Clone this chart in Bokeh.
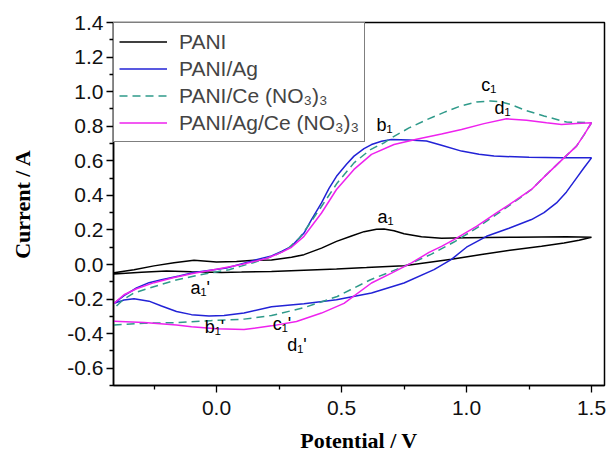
from bokeh.plotting import figure
from bokeh.models import FixedTicker, PrintfTickFormatter, Range1d, Legend, LegendItem, ColumnDataSource
from bokeh.core.properties import value
from bokeh.embed import file_html
from bokeh.resources import INLINE

# ---------------- data ----------------
pani_x = [-0.41, -0.33, -0.25, -0.17, -0.09, 0.0, 0.08, 0.15, 0.22, 0.30, 0.35, 0.42, 0.48, 0.54, 0.59, 0.64, 0.67, 0.71, 0.75, 0.82, 0.90, 1.00, 1.20, 1.40, 1.50,
          1.45, 1.39, 1.30, 1.19, 1.06, 0.94, 0.86, 0.75, 0.60, 0.48, 0.35, 0.22, 0.10, 0.02, -0.10, -0.20, -0.30, -0.41]
pani_y = [-0.048, -0.03, -0.008, 0.01, 0.024, 0.015, 0.018, 0.024, 0.026, 0.042, 0.057, 0.095, 0.134, 0.165, 0.19, 0.204, 0.206, 0.195, 0.178, 0.16, 0.152, 0.155, 0.158, 0.16, 0.158,
          0.14, 0.125, 0.106, 0.086, 0.058, 0.03, 0.015, -0.007, -0.018, -0.026, -0.033, -0.04, -0.044, -0.046, -0.042, -0.038, -0.045, -0.055]

ag_x = [-0.41, -0.37, -0.32, -0.27, -0.22, -0.15, -0.09, 0.04, 0.15, 0.22, 0.26, 0.30, 0.35, 0.38, 0.42, 0.45, 0.48, 0.52, 0.55, 0.59, 0.62, 0.66, 0.70, 0.77, 0.84, 0.90, 0.98, 1.05, 1.11, 1.25, 1.38, 1.50,
        1.47, 1.44, 1.40, 1.36, 1.31, 1.26, 1.17, 1.08, 1.00, 0.94, 0.87, 0.75, 0.62, 0.48, 0.35, 0.22, 0.11, 0.03, -0.03, -0.10, -0.16, -0.22, -0.27, -0.33, -0.37, -0.41]
ag_y = [-0.225, -0.18, -0.136, -0.105, -0.088, -0.066, -0.046, -0.02, 0.024, 0.05, 0.075, 0.105, 0.182, 0.26, 0.356, 0.44, 0.51, 0.58, 0.627, 0.67, 0.694, 0.713, 0.723, 0.72, 0.714, 0.69, 0.656, 0.638, 0.627, 0.62, 0.617, 0.617,
        0.56, 0.50, 0.42, 0.356, 0.30, 0.26, 0.21, 0.163, 0.10, 0.03, -0.03, -0.107, -0.165, -0.204, -0.227, -0.245, -0.28, -0.295, -0.298, -0.29, -0.272, -0.24, -0.212, -0.198, -0.205, -0.225]

ce_x = [-0.40, -0.37, -0.33, -0.29, -0.22, -0.157, -0.064, 0.05, 0.15, 0.22, 0.28, 0.33, 0.37, 0.416, 0.483, 0.55, 0.616, 0.67, 0.70, 0.77, 0.843, 0.91, 0.976, 1.04, 1.096, 1.14, 1.176, 1.24, 1.31, 1.40, 1.50,
        1.47, 1.44, 1.39, 1.32, 1.26, 1.19, 1.12, 1.04, 0.95, 0.86, 0.75, 0.616, 0.536, 0.483, 0.35, 0.22, 0.11, -0.024, -0.157, -0.29, -0.41]
ce_y = [-0.24, -0.2, -0.165, -0.146, -0.115, -0.088, -0.059, -0.03, 0.012, 0.045, 0.085, 0.15, 0.23, 0.327, 0.472, 0.588, 0.665, 0.704, 0.733, 0.79, 0.839, 0.88, 0.917, 0.94, 0.946, 0.94, 0.926, 0.89, 0.859, 0.824, 0.82,
        0.75, 0.685, 0.617, 0.52, 0.434, 0.36, 0.29, 0.21, 0.13, 0.06, -0.011, -0.088, -0.146, -0.185, -0.25, -0.295, -0.316, -0.325, -0.336, -0.34, -0.35]

agce_x = [-0.41, -0.37, -0.32, -0.25, -0.17, -0.09, 0.0, 0.10, 0.20, 0.26, 0.30, 0.35, 0.42, 0.48, 0.55, 0.62, 0.71, 0.80, 0.90, 0.98, 1.07, 1.16, 1.24, 1.32, 1.38, 1.44, 1.50,
          1.47, 1.44, 1.39, 1.32, 1.26, 1.19, 1.12, 1.04, 0.95, 0.90, 0.85, 0.78, 0.70, 0.62, 0.51, 0.42, 0.32, 0.22, 0.11, 0.0, -0.10, -0.16, -0.29, -0.41]
agce_y = [-0.225, -0.175, -0.14, -0.105, -0.075, -0.05, -0.028, 0.0, 0.035, 0.07, 0.10, 0.163, 0.298, 0.434, 0.55, 0.637, 0.694, 0.725, 0.755, 0.781, 0.815, 0.843, 0.835, 0.82, 0.81, 0.815, 0.82,
          0.75, 0.685, 0.617, 0.52, 0.434, 0.365, 0.298, 0.22, 0.144, 0.105, 0.07, 0.009, -0.05, -0.107, -0.225, -0.281, -0.33, -0.355, -0.376, -0.372, -0.36, -0.35, -0.336, -0.328]

series_names = ["PANI", "PANI/Ag", "PANI/Ce (NO\u2083)\u2083", "PANI/Ag/Ce (NO\u2083)\u2083"]

peak_labels = ["a\u2081", "b\u2081", "c\u2081", "d\u2081", "a\u2081'", "b\u2081'", "c\u2081'", "d\u2081'"]
peak_x = [0.644, 0.64, 1.059, 1.112, -0.104, -0.047, 0.225, 0.283]
peak_y = [0.277, 0.805, 1.036, 0.907, -0.136, -0.362, -0.345, -0.467]

x_ticks = [0.0, 0.5, 1.0, 1.5]
x_minor = [-0.25, 0.25, 0.75, 1.25]
y_ticks = [-0.6, -0.4, -0.2, 0.0, 0.2, 0.4, 0.6, 0.8, 1.0, 1.2, 1.4]
y_minor = [-0.7, -0.5, -0.3, -0.1, 0.1, 0.3, 0.5, 0.7, 0.9, 1.1, 1.3]

x_title = "Potential / V"
y_title = "Current / A"

# ---------------- figure ----------------
p = figure(width=608, height=455, output_backend="svg", toolbar_location=None,
           x_range=Range1d(-0.412, 1.552), y_range=Range1d(-0.7, 1.4),
           min_border_left=113, min_border_right=4, min_border_top=22, min_border_bottom=70)
p.xgrid.visible = False
p.ygrid.visible = False
p.outline_line_color = "black"
p.outline_line_width = 1.5
p.background_fill_color = "white"

colors = ["#000000", "#2222d6", "#2f9a8a", "#ee22ee"]
xs = [pani_x, ag_x, ce_x, agce_x]
ys = [pani_y, ag_y, ce_y, agce_y]
dashes = ["solid", "solid", "8 5", "solid"]
renderers = []
for xv, yv, c, d in zip(xs, ys, colors, dashes):
    r = p.line(xv, yv, line_color=c, line_width=1.5, line_dash=d)
    renderers.append(r)

src = ColumnDataSource(dict(x=peak_x, y=peak_y, t=peak_labels))
p.text(x="x", y="y", text="t", source=src, text_font=value("Liberation Sans"),
       text_font_size="18px", text_align="left", text_baseline="middle", text_color="black")

legend = Legend(items=[LegendItem(label=n, renderers=[r]) for n, r in zip(series_names, renderers)],
                location="top_left", margin=0, padding=5, spacing=0,
                label_text_font="Liberation Sans", label_text_font_size="21px",
                label_height=27, glyph_height=27, glyph_width=48, label_standoff=12,
                border_line_color="black", border_line_width=1.2,
                background_fill_color="white", background_fill_alpha=1.0)
p.add_layout(legend, "center")

for ax in (p.xaxis[0], p.yaxis[0]):
    ax.axis_line_color = "black"
    ax.axis_line_width = 1.5
    ax.major_tick_line_color = "black"
    ax.minor_tick_line_color = "black"
    ax.major_tick_line_width = 1.3
    ax.minor_tick_line_width = 1.3
    ax.major_tick_in = 0
    ax.major_tick_out = 7
    ax.minor_tick_in = 0
    ax.minor_tick_out = 4
    ax.major_label_text_font = "Liberation Sans"
    ax.major_label_text_font_size = "21px"
    ax.major_label_text_color = "#111111"
    ax.axis_label_text_font = "Liberation Serif"
    ax.axis_label_text_font_style = "bold"
    ax.axis_label_text_font_size = "22px"
    ax.axis_label_text_color = "black"
    ax.formatter = PrintfTickFormatter(format="%.1f")

p.xaxis[0].ticker = FixedTicker(ticks=x_ticks, minor_ticks=x_minor)
p.yaxis[0].ticker = FixedTicker(ticks=y_ticks, minor_ticks=y_minor)
p.xaxis[0].axis_label = x_title
p.yaxis[0].axis_label = y_title
p.xaxis[0].major_label_standoff = 8
p.xaxis[0].axis_label_standoff = 10
p.yaxis[0].major_label_standoff = 3
p.yaxis[0].axis_label_standoff = 29

open("out.html", "w").write(file_html(p, INLINE))
